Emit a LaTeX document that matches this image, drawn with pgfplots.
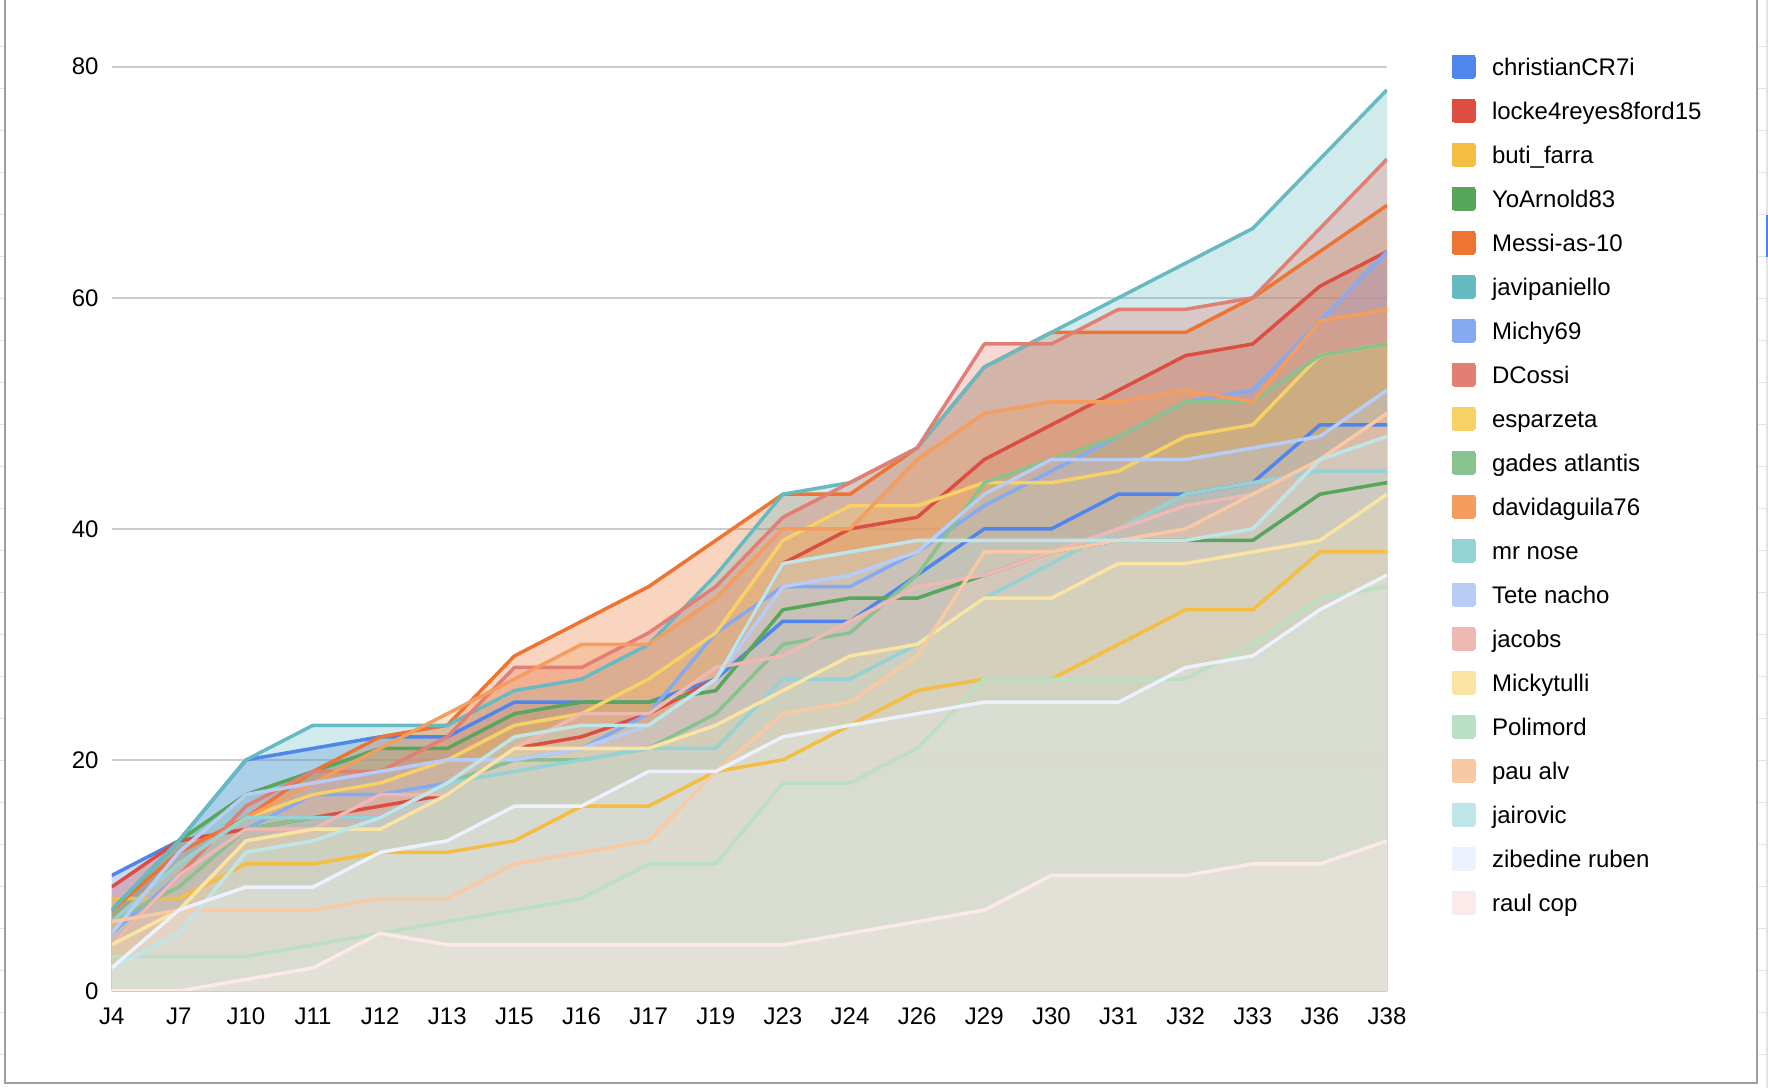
\documentclass[border=0pt]{standalone}
\usepackage{fontspec}
\setmainfont{Liberation Sans}
\usepackage{pgfplots}
\usepackage{pgfplotstable}
\pgfplotsset{compat=1.18}

\definecolor{c1}{HTML}{4F86EC}
\definecolor{c2}{HTML}{DC4E41}
\definecolor{c3}{HTML}{F3BE42}
\definecolor{c4}{HTML}{58A55C}
\definecolor{c5}{HTML}{EE7431}
\definecolor{c6}{HTML}{67BAC2}
\definecolor{c7}{HTML}{86AAF2}
\definecolor{c8}{HTML}{E27F74}
\definecolor{c9}{HTML}{F7D066}
\definecolor{c10}{HTML}{89C28F}
\definecolor{c11}{HTML}{F39D5F}
\definecolor{c12}{HTML}{95D2D6}
\definecolor{c13}{HTML}{B8CCF6}
\definecolor{c14}{HTML}{EEB9B3}
\definecolor{c15}{HTML}{F9E4A3}
\definecolor{c16}{HTML}{BADFC3}
\definecolor{c17}{HTML}{F8C9A3}
\definecolor{c18}{HTML}{C0E5E8}
\definecolor{c19}{HTML}{ECF2FD}
\definecolor{c20}{HTML}{FCEAEA}
\definecolor{cgrid}{HTML}{CCCCCC}
\definecolor{cborder}{HTML}{9E9E9E}
\definecolor{csheet}{HTML}{E2E2E2}
\definecolor{csel}{HTML}{4285F4}

\pgfplotstableread{
x  s1 s2 s3 s4 s5 s6 s7 s8 s9 s10 s11 s12 s13 s14 s15 s16 s17 s18 s19 s20
0  10 9  8  7  7  7  5  4  6  6   6   6   5   4   4   3   6   2   2   0
1  13 13 8  13 12 13 10 10 11 9   11  11  12  10  7   3   7   5   7   0
2  20 14 11 17 15 20 14 16 15 14  15  15  17  14  13  3   7   12  9   1
3  21 15 11 19 19 23 17 19 17 15  18  15  18  14  14  4   7   13  9   2
4  22 16 12 21 22 23 17 19 18 15  21  15  19  17  14  5   8   15  12  5
5  22 17 12 21 23 23 18 22 20 18  24  18  20  17  17  6   8   18  13  4
6  25 21 13 24 29 26 20 28 23 20  27  19  20  21  21  7   11  22  16  4
7  25 22 16 25 32 27 21 28 24 20  30  20  21  24  21  8   12  23  16  4
8  25 24 16 25 35 30 24 31 27 21  30  21  23  24  21  11  13  23  19  4
9  27 27 19 26 39 36 31 35 31 24  34  21  27  28  23  11  19  27  19  4
10 32 37 20 33 43 43 35 41 39 30  40  27  35  29  26  18  24  37  22  4
11 32 40 23 34 43 44 35 44 42 31  40  27  36  32  29  18  25  38  23  5
12 36 41 26 34 47 47 38 47 42 36  46  30  38  35  30  21  29  39  24  6
13 40 46 27 36 54 54 42 56 44 44  50  34  43  36  34  27  38  39  25  7
14 40 49 27 38 57 57 45 56 44 46  51  37  46  38  34  27  38  39  25  10
15 43 52 30 39 57 60 48 59 45 48  51  40  46  40  37  27  39  39  25  10
16 43 55 33 39 57 63 51 59 48 51  52  43  46  42  37  27  40  39  28  10
17 44 56 33 39 60 66 52 60 49 51  51  44  47  43  38  30  43  40  29  11
18 49 61 38 43 64 72 58 66 55 55  58  45  48  46  39  34  46  46  33  11
19 49 64 38 44 68 78 64 72 56 56  59  45  52  50  43  35  50  48  36  13
}\data

\newcommand{\fillser}[2]{%
  \addplot[draw=none, fill=#2, fill opacity=0.3, forget plot] table[x=x,y=#1]{\data} \closedcycle;
}
\newcommand{\lineser}[3]{%
  \addplot[color=#2, line width=1.75pt, line join=round] table[x=x,y=#1]{\data};
  \addlegendentry{#3}%
}

\begin{document}
\begin{tikzpicture}[x=1pt,y=1pt]
\useasboundingbox (0,0) rectangle (884,544);
\fill[white] (0,0) rectangle (884,544);
% spreadsheet surroundings
\foreach \k in {0,...,24} {
  \draw[csheet, line width=0.6pt] (0,{544-(46.7+42*\k)/2}) -- (2.2,{544-(46.7+42*\k)/2});
  \draw[csheet, line width=0.6pt] (878.8,{544-(46.7+42*\k)/2}) -- (884,{544-(46.7+42*\k)/2});
}
\draw[csheet, line width=1pt] (883.35,0) -- (883.35,544);
\draw[csel, line width=1pt] (883.5,436.5) -- (883.5,415.5);
\draw[cborder, line width=1pt] (2.5,544) -- (2.5,2.65) -- (878.35,2.65) -- (878.35,544);

\begin{axis}[
  at={(55.85pt,48.5pt)}, anchor=south west,
  scale only axis, width=637.65pt, height=462.15pt,
  xmin=0, xmax=19, ymin=0, ymax=80,
  xtick={0,...,19},
  xticklabels={J4,J7,J10,J11,J12,J13,J15,J16,J17,J19,J23,J24,J26,J29,J30,J31,J32,J33,J36,J38},
  ytick={0,20,40,60,80},
  ymajorgrids=true,
  grid style={cgrid, line width=1pt},
  axis line style={draw=none},
  major tick length=0pt,
  /pgf/number format/assume math mode=true,
  every tick label/.append style={font=\fontsize{12}{14}\selectfont, text=black},
  xticklabel style={anchor=center, inner sep=0pt, yshift=-12.85pt},
  yticklabel style={anchor=east, inner sep=0pt, xshift=-6.4pt},
  legend cell align=left,
  legend style={at={(axis description cs:1.051,1.0132)}, anchor=north west,
    draw=none, fill=none, inner sep=0pt, outer sep=0pt, row sep=10pt,
    font=\fontsize{12}{14}\selectfont,
    nodes={inner sep=0pt, text height=10.3pt, text depth=1.7pt},
    /tikz/every odd column/.append style={column sep=8.5pt}},
  legend image code/.code={\fill[#1, line width=0pt, rounded corners=1pt] (0pt,-5.75pt) rectangle (11.5pt,5.75pt);},
]
\fillser{s1}{c1}
\fillser{s2}{c2}
\fillser{s3}{c3}
\fillser{s4}{c4}
\fillser{s5}{c5}
\fillser{s6}{c6}
\fillser{s7}{c7}
\fillser{s8}{c8}
\fillser{s9}{c9}
\fillser{s10}{c10}
\fillser{s11}{c11}
\fillser{s12}{c12}
\fillser{s13}{c13}
\fillser{s14}{c14}
\fillser{s15}{c15}
\fillser{s16}{c16}
\fillser{s17}{c17}
\fillser{s18}{c18}
\fillser{s19}{c19}
\fillser{s20}{c20}
\lineser{s1}{c1}{christianCR7i}
\lineser{s2}{c2}{locke4reyes8ford15}
\lineser{s3}{c3}{buti\_farra}
\lineser{s4}{c4}{YoArnold83}
\lineser{s5}{c5}{Messi-as-10}
\lineser{s6}{c6}{javipaniello}
\lineser{s7}{c7}{Michy69}
\lineser{s8}{c8}{DCossi}
\lineser{s9}{c9}{esparzeta}
\lineser{s10}{c10}{gades atlantis}
\lineser{s11}{c11}{davidaguila76}
\lineser{s12}{c12}{mr nose}
\lineser{s13}{c13}{Tete nacho}
\lineser{s14}{c14}{jacobs}
\lineser{s15}{c15}{Mickytulli}
\lineser{s16}{c16}{Polimord}
\lineser{s17}{c17}{pau alv}
\lineser{s18}{c18}{jairovic}
\lineser{s19}{c19}{zibedine ruben}
\lineser{s20}{c20}{raul cop}
\end{axis}
\end{tikzpicture}
\end{document}
